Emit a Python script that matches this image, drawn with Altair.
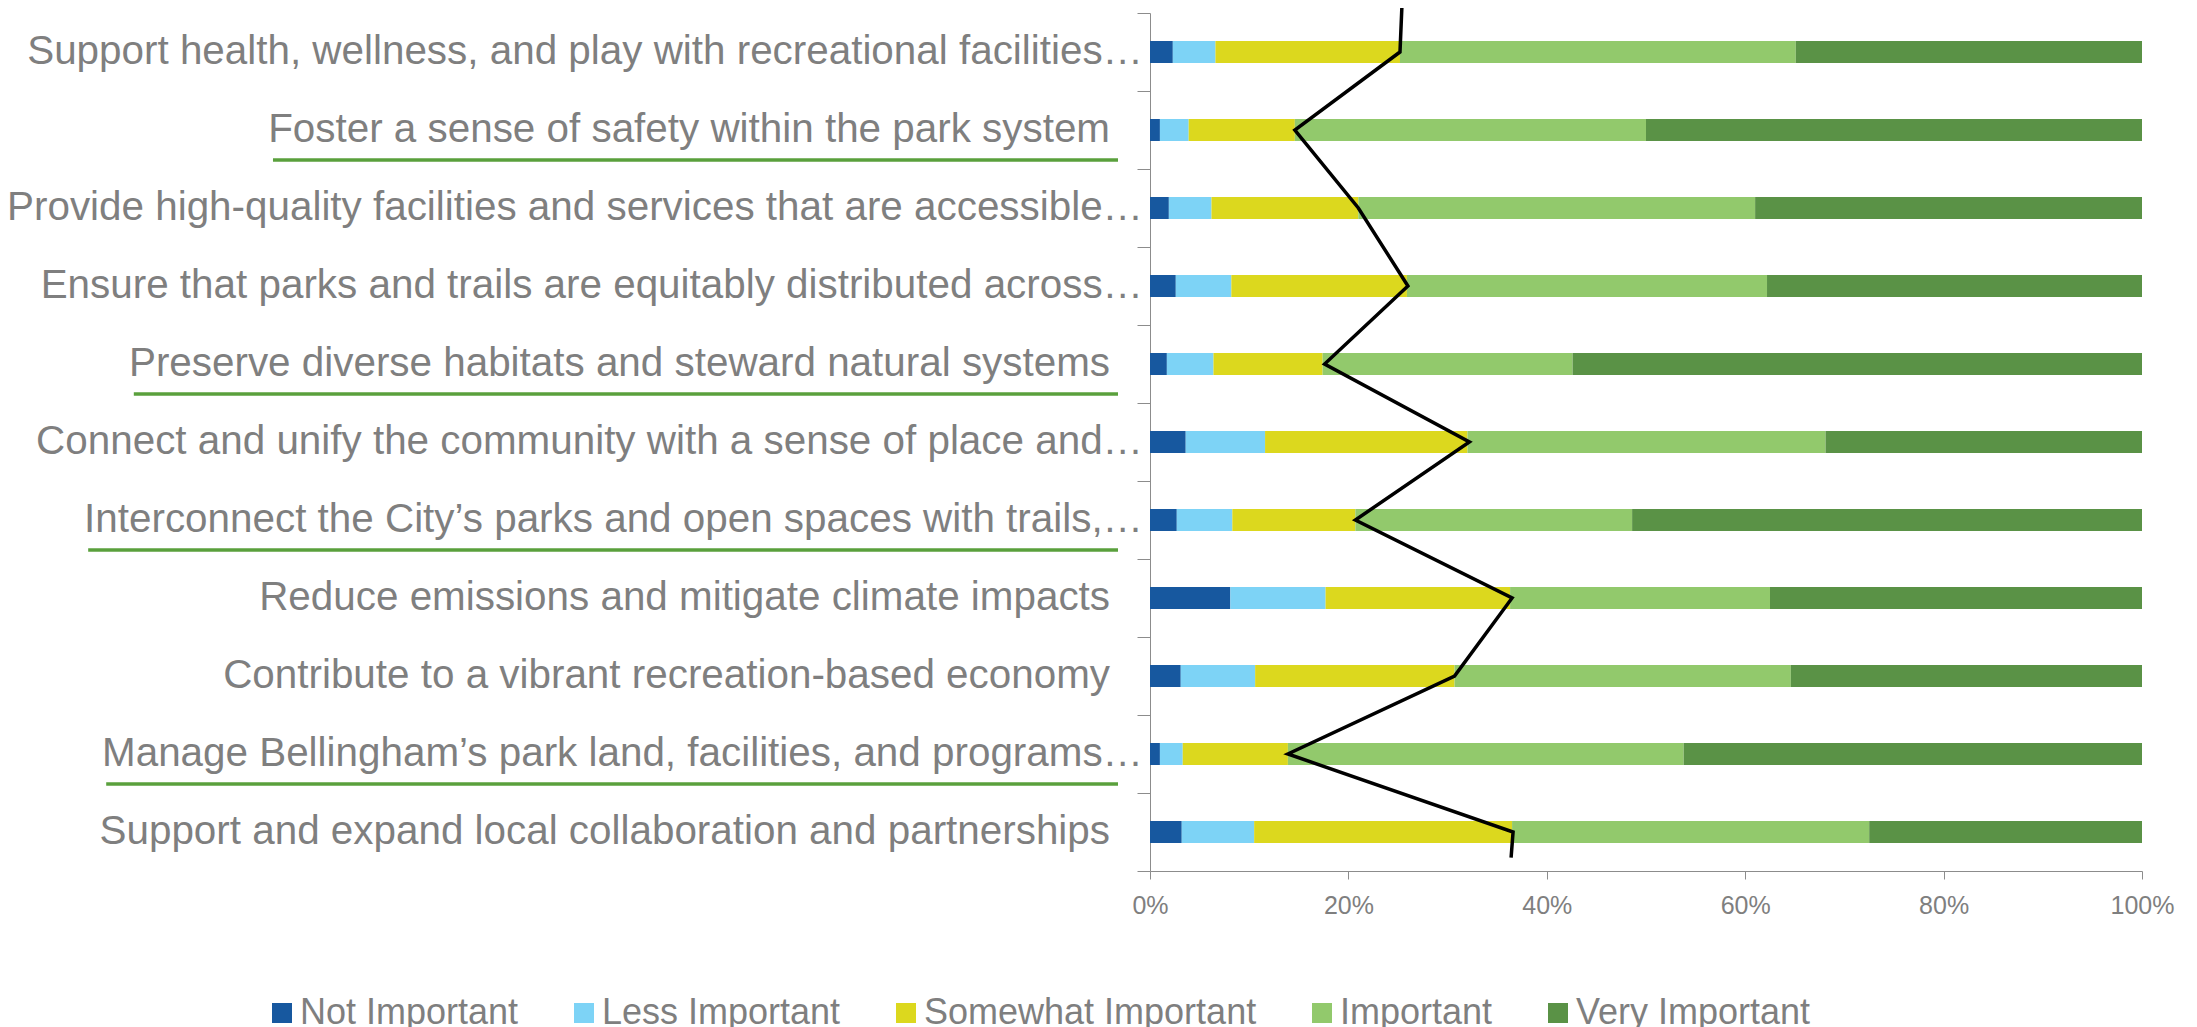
import altair as alt
import pandas as pd

categories = [
    "Support health, wellness, and play with recreational facilities…",
    "Foster a sense of safety within the park system",
    "Provide high-quality facilities and services that are accessible…",
    "Ensure that parks and trails are equitably distributed across…",
    "Preserve diverse habitats and steward natural systems",
    "Connect and unify the community with a sense of place and…",
    "Interconnect the City’s parks and open spaces with trails,…",
    "Reduce emissions and mitigate climate impacts",
    "Contribute to a vibrant recreation-based economy",
    "Manage Bellingham’s park land, facilities, and programs…",
    "Support and expand local collaboration and partnerships",
]
levels = ["Not Important", "Less Important", "Somewhat Important", "Important", "Very Important"]

not_important = [2.3, 1.0, 1.9, 2.6, 1.7, 3.6, 2.7, 8.1, 3.1, 1.0, 3.2]
less_important = [4.3, 2.9, 4.3, 5.6, 4.7, 8.0, 5.6, 9.6, 7.5, 2.3, 7.3]
somewhat_important = [18.6, 10.7, 14.8, 17.7, 11.0, 20.4, 12.4, 18.6, 20.1, 10.6, 26.0]
important = [39.9, 35.4, 40.0, 36.3, 25.2, 36.1, 27.9, 26.2, 33.9, 39.9, 36.0]
very_important = [34.9, 50.0, 39.0, 37.8, 57.4, 31.9, 51.4, 37.5, 35.4, 46.2, 27.5]

# black line: value at each row, plus the two ends that run past the first and last bar
line_values = [25.2, 14.6, 21.0, 26.0, 17.6, 32.2, 20.7, 36.5, 30.7, 13.9, 36.6]
line_top_end = {"pos": -0.6, "value": 25.4}
line_bottom_end = {"pos": 10.33, "value": 36.4}

underlined = [
    "Foster a sense of safety within the park system",
    "Preserve diverse habitats and steward natural systems",
    "Interconnect the City’s parks and open spaces with trails,…",
    "Manage Bellingham’s park land, facilities, and programs…",
]

colors = ["#17589f", "#7dd3f6", "#dcd81e", "#92c96c", "#5a9246"]
series = [not_important, less_important, somewhat_important, important, very_important]

FONT = "Liberation Sans"
LABEL_SIZE = 40.4
GRAY_TEXT = "#7f7f7f"
GRAY_AXIS = "#8c8c8c"

# Arial / Liberation Sans advance widths (per 1000 em) to estimate label widths for the underlines
_W = {}
_W.update({c: 556 for c in "abdeghnopqu0123456789"})
_W.update({c: 500 for c in "cksvxyzJ"})
_W.update({c: 222 for c in "ijl’"})
_W.update({c: 278 for c in "tf ,.I"})
_W.update({c: 333 for c in "r-"})
_W.update({"m": 833, "w": 722, "M": 833, "W": 944, "…": 1000})
_W.update({c: 667 for c in "ABEKPSVXY"})
_W.update({c: 722 for c in "CDHNRU"})
_W.update({c: 778 for c in "GOQ"})
_W.update({"F": 611, "T": 611, "L": 556, "Z": 611})


def text_width(s):
    return sum(_W.get(ch, 556) for ch in s) * LABEL_SIZE / 1000.0


rows = []
for j, (lvl, vals) in enumerate(zip(levels, series)):
    for i, c in enumerate(categories):
        rows.append({"cat": c, "level": lvl, "value": vals[i], "ord": j})
bars_df = pd.DataFrame(rows)

labels_df = pd.DataFrame({
    "cat": categories,
    "trimmed": [c.endswith("…") for c in categories],
})

ul_df = pd.DataFrame({
    "cat": underlined,
    "trimmed": [c.endswith("…") for c in underlined],
    "tw": [text_width(c) for c in underlined],
})

line_rows = [{"seq": 0, "pos": line_top_end["pos"], "lx": line_top_end["value"]}]
for i, v in enumerate(line_values):
    line_rows.append({"seq": i + 1, "pos": float(i), "lx": v})
line_rows.append({"seq": len(line_values) + 1, "pos": line_bottom_end["pos"], "lx": line_bottom_end["value"]})
line_df = pd.DataFrame(line_rows)

y_band = alt.Scale(domain=categories, paddingInner=0, paddingOuter=0)

bars = alt.Chart(bars_df).mark_bar(size=22).encode(
    y=alt.Y(
        "cat:N",
        sort=categories,
        scale=y_band,
        axis=alt.Axis(
            title=None,
            labels=False,
            tickBand="extent",
            tickSize=13,
            tickColor=GRAY_AXIS,
            domainColor=GRAY_AXIS,
        ),
    ),
    x=alt.X(
        "value:Q",
        stack="zero",
        scale=alt.Scale(domain=[0, 100], nice=False),
        axis=alt.Axis(
            title=None,
            values=[0, 20, 40, 60, 80, 100],
            labelExpr="datum.value + '%'",
            labelFlush=False,
            grid=False,
            tickSize=8,
            tickColor=GRAY_AXIS,
            domainColor=GRAY_AXIS,
            labelFont=FONT,
            labelFontSize=25,
            labelColor=GRAY_TEXT,
            labelPadding=14,
        ),
    ),
    color=alt.Color(
        "level:N",
        scale=alt.Scale(domain=levels, range=colors),
        legend=alt.Legend(
            title=None,
            orient="none",
            legendX=-886,
            legendY=982,
            direction="horizontal",
            symbolType="square",
            symbolSize=400,
            symbolStrokeWidth=0,
            labelFont=FONT,
            labelFontSize=36,
            labelColor=GRAY_TEXT,
            labelOffset=0,
            columnPadding=47,
            labelLimit=1000,
        ),
    ),
    order=alt.Order("ord:Q"),
)

cat_labels = alt.Chart(labels_df).transform_calculate(
    lab_x="datum.trimmed ? -7 : -40",
).mark_text(
    align="right", baseline="middle", font=FONT, fontSize=LABEL_SIZE, color=GRAY_TEXT
).encode(
    y=alt.Y("cat:N", sort=categories, scale=y_band, title=None),
    x=alt.X("lab_x:Q", scale=None),
    text="cat:N",
)

underlines = alt.Chart(ul_df).transform_calculate(
    ux2="-32",
    ux1="(datum.trimmed ? -7 : -40) - datum.tw + 5",
).mark_rule(color="#5aa03c", strokeWidth=3.5, yOffset=30).encode(
    y=alt.Y("cat:N", sort=categories, scale=y_band, title=None),
    x=alt.X("ux1:Q", scale=None),
    x2="ux2:Q",
)

line = alt.Chart(line_df).mark_line(
    color="black", strokeWidth=3.5, strokeJoin="miter", strokeCap="butt"
).encode(
    y=alt.Y("pos:Q", scale=alt.Scale(domain=[-0.5, 10.5], reverse=True, nice=False, zero=False), axis=None),
    x=alt.X("lx:Q", title=None),
    order=alt.Order("seq:Q"),
)

inner = alt.layer(bars, cat_labels, underlines)
chart = alt.layer(inner, line).resolve_scale(y="independent").properties(
    width=992,
    height=858,
    autosize=alt.AutoSizeParams(type="none"),
    padding={"left": 1142, "top": 5, "right": 39, "bottom": 156},
    background="white",
).configure_view(stroke=None)

chart.save("out.html", embed_options={"renderer": "svg", "actions": False})
